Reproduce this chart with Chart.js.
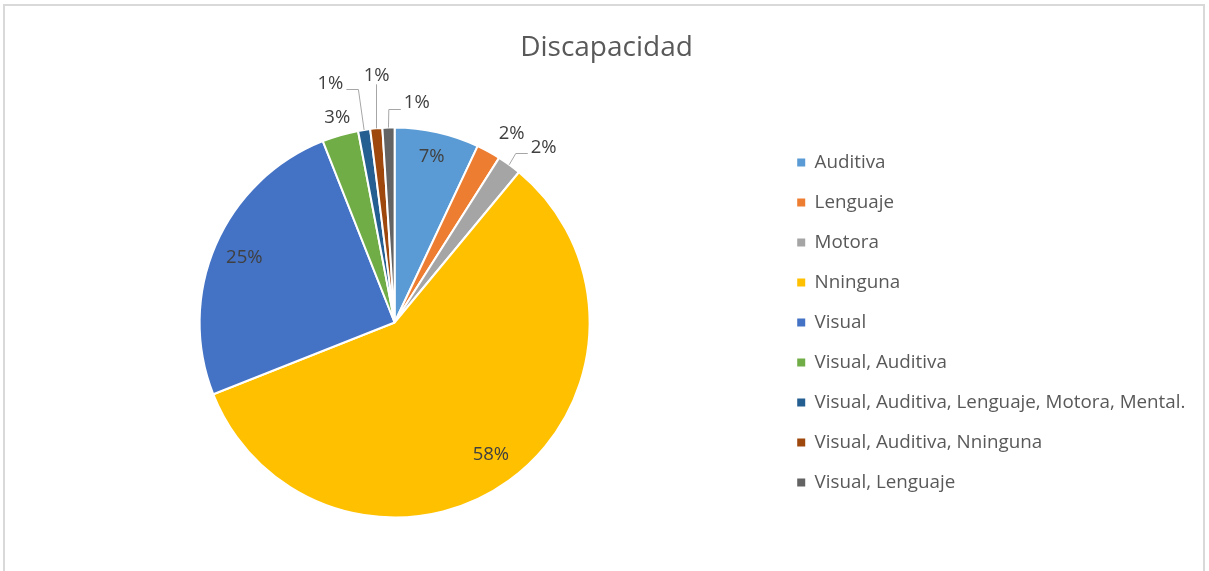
<!DOCTYPE html>
<html>
<head>
<meta charset="utf-8">
<script src="https://cdn.jsdelivr.net/npm/chart.js@4.4.1/dist/chart.umd.min.js"></script>
<style>
  html, body { margin: 0; padding: 0; background: #ffffff; }
  #frame {
    position: absolute; left: 3px; top: 4px; width: 1198px; height: 620px;
    border: 2px solid #d9d9d9; border-bottom: none;
  }
  #wrap { position: absolute; left: 0; top: 0; width: 1209px; height: 571px; }
</style>
</head>
<body>
<div id="frame"></div>
<div id="wrap"><canvas id="c" width="1209" height="571"></canvas></div>
<script>
// Categories and their shares (percent of respondents)
const categories = [
  'Auditiva',
  'Lenguaje',
  'Motora',
  'Nninguna',
  'Visual',
  'Visual, Auditiva',
  'Visual, Auditiva, Lenguaje, Motora, Mental.',
  'Visual, Auditiva, Nninguna',
  'Visual, Lenguaje'
];
const shares = [7, 2, 2, 58, 25, 3, 1, 1, 1];

const chartTitle = 'Discapacidad';

const sliceColors = [
  '#5B9BD5', '#ED7D31', '#A5A5A5', '#FFC000', '#4472C4',
  '#70AD47', '#255E91', '#9E480E', '#636363'
];

// Where each percentage label sits: fraction of the radius along the slice
// middle, an optional pixel nudge, and whether a leader line is drawn.
const labelPlacement = [
  { f: 0.87 },
  { f: 1.14, dx: 10, dy: 6 },
  { f: 1.17, dx: 15, dy: 10, leader: true },
  { f: 0.84 },
  { f: 0.84 },
  { f: 1.09, dx: 2, dy: -1 },
  { f: 1.25, dx: -26, dy: 2, leader: true },
  { f: 1.25, dx: 5, dy: -4, leader: true },
  { f: 1.12, dx: 29, dy: -1, leader: true }
];

const FONT = "'Open Sans', sans-serif";
Chart.defaults.font.family = FONT;

// Title centred across the whole frame (the legend sits to the right of the pie)
const frameTitle = {
  id: 'frameTitle',
  afterDraw(chart) {
    const ctx = chart.ctx;
    ctx.save();
    ctx.font = '28px ' + FONT;
    ctx.fillStyle = '#595959';
    ctx.textAlign = 'center';
    ctx.textBaseline = 'middle';
    ctx.fillText(chartTitle, 606.5, 48.5);
    ctx.restore();
  }
};

// Percentage labels with optional elbow leader lines
const sliceLabels = {
  id: 'sliceLabels',
  afterDatasetsDraw(chart) {
    const ctx = chart.ctx;
    const meta = chart.getDatasetMeta(0);
    const values = chart.data.datasets[0].data;
    const total = values.reduce((a, b) => a + b, 0);
    ctx.save();
    ctx.font = '18.5px ' + FONT;
    ctx.textAlign = 'center';
    ctx.textBaseline = 'middle';
    meta.data.forEach((arc, i) => {
      const { x, y, startAngle, endAngle, outerRadius } =
        arc.getProps(['x', 'y', 'startAngle', 'endAngle', 'outerRadius'], true);
      const mid = (startAngle + endAngle) / 2;
      const p = labelPlacement[i];
      const lx = x + Math.cos(mid) * outerRadius * p.f + (p.dx || 0);
      const ly = y + Math.sin(mid) * outerRadius * p.f + (p.dy || 0);
      const text = Math.round(values[i] / total * 100) + '%';
      if (p.leader) {
        const w = ctx.measureText(text).width;
        const h = 13;
        const ex = x + Math.cos(mid) * outerRadius;
        const ey = y + Math.sin(mid) * outerRadius;
        ctx.strokeStyle = '#a6a6a6';
        ctx.lineWidth = 1;
        ctx.beginPath();
        if (ex >= lx - w / 2 && ex <= lx + w / 2) {
          const vx = Math.round(ex) + 0.5;
          ctx.moveTo(vx, ly + h / 2 + 2);
          ctx.lineTo(vx, ey);
        } else {
          const dir = ex > lx ? 1 : -1;
          const sx = lx + dir * (w / 2 + 3);
          const sy = Math.round(ly + h / 2 - 1) + 0.5;
          const run = Math.min(12, Math.abs(ex - sx));
          ctx.moveTo(sx, sy);
          ctx.lineTo(sx + dir * run, sy);
          ctx.lineTo(ex, ey);
        }
        ctx.stroke();
      }
      ctx.fillStyle = '#404040';
      ctx.fillText(text, lx, ly);
    });
    ctx.restore();
  }
};

const baseLabels = Chart.controllers.doughnut.overrides.plugins.legend.labels.generateLabels;

new Chart(document.getElementById('c'), {
  type: 'pie',
  data: {
    labels: categories,
    datasets: [{
      data: shares,
      backgroundColor: sliceColors,
      borderColor: '#ffffff',
      borderWidth: 2
    }]
  },
  options: {
    responsive: false,
    animation: false,
    events: [],
    radius: 195,
    layout: { padding: { left: 13.2, right: 13.6, top: 84, bottom: 10 } },
    plugins: {
      title: { display: false },
      legend: {
        position: 'right',
        align: 'center',
        labels: {
          boxWidth: 8,
          boxHeight: 8,
          padding: 21.2,
          color: '#595959',
          font: { size: 18.8, family: FONT },
          generateLabels(chart) {
            const items = baseLabels(chart);
            items.forEach(it => { it.lineWidth = 0; });
            return items;
          }
        }
      },
      tooltip: { enabled: false }
    }
  },
  plugins: [sliceLabels, frameTitle]
});
</script>
</body>
</html>
